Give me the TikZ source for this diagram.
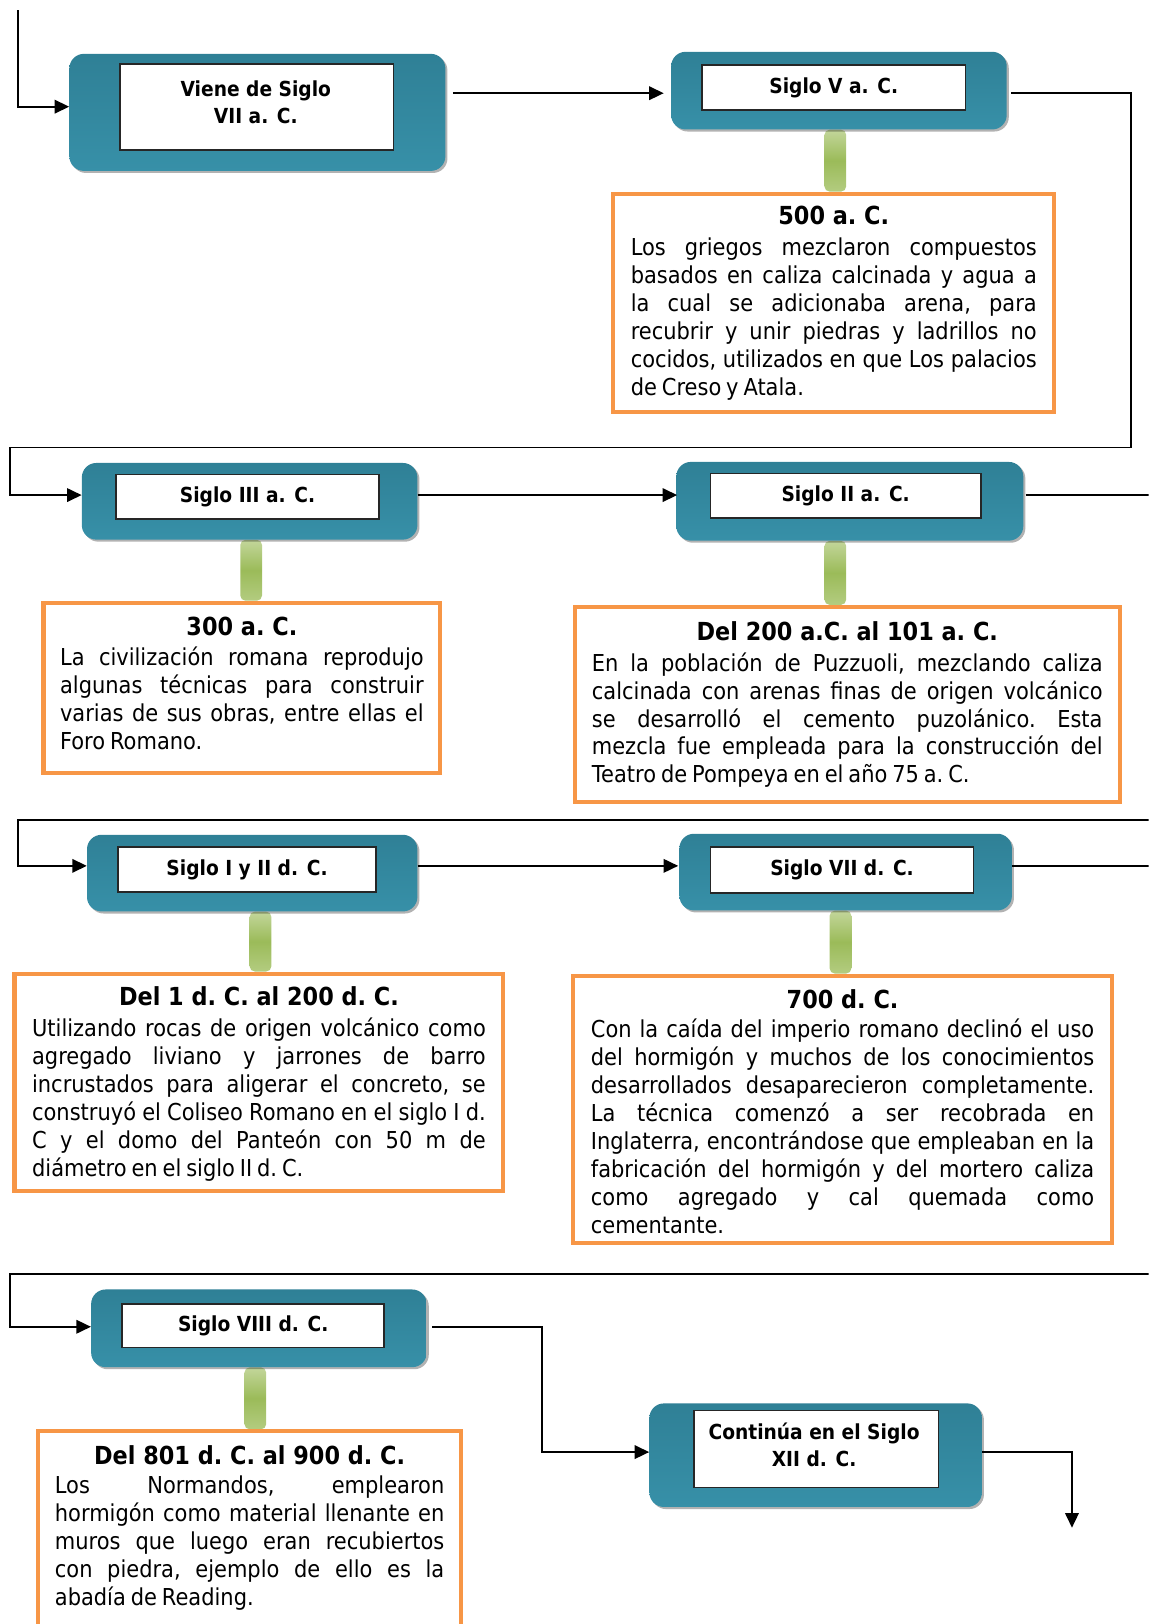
\documentclass[tikz,border=0pt]{standalone}
\usepackage{fontspec}
\setmainfont[FakeStretch=0.9]{DejaVu Sans}
\usetikzlibrary{arrows.meta,shadows,calc,backgrounds}
\definecolor{tealA}{HTML}{2F8096}
\definecolor{tealB}{HTML}{3790A8}
\definecolor{orangeb}{HTML}{F79646}
\definecolor{greenm}{HTML}{9BBB59}
\definecolor{greenl}{HTML}{C3D69B}
\definecolor{greenb}{HTML}{B3CC80}
\newcommand\mytitlef{\fontsize{24}{28}\selectfont\bfseries\spaceskip=0pt\relax}
\newcommand\mybodyf{\fontsize{22.5}{27}\selectfont}
\newcommand\mylabelf{\fontsize{20}{26}\selectfont\bfseries}
\newcommand\mysetup{\frenchspacing\parindent=0pt\spaceskip=.21em plus 1.5em minus .06em\relax\hyphenpenalty=10000\exhyphenpenalty=10000\tolerance=10000\hbadness=10000\relax}
\begin{document}
\begin{tikzpicture}[x=1pt,y=-1pt,
  tealnode/.style={rounded corners=14pt, top color=tealA, bottom color=tealB, draw=none, inner sep=0pt,
    drop shadow={shadow xshift=2pt,shadow yshift=-2pt,opacity=.3,fill=black}},
  wnode/.style={fill=white, draw=black!85, line width=1.5pt, inner sep=0pt, align=center, font=\mylabelf},
  ltext/.style={inner sep=0pt, align=center, font=\mylabelf},
  obox/.style={draw=orangeb, line width=4pt, fill=white, inner sep=0pt},
  otext/.style={align=justify, inner sep=0pt, anchor=north, font=\mybodyf},
  stemsty/.style={top color=greenl, bottom color=greenb, middle color=greenm, rounded corners=5pt},
  conn/.style={line width=1.8pt, -{Triangle[length=14pt,width=13pt]}},
  plain/.style={line width=1.8pt}]
\path[use as bounding box] (0,0) rectangle (1109,1568);
\clip (0,0) rectangle (1109,1568);

% ---- row 1
\node[tealnode, minimum width=363pt, minimum height=113pt] (T1) at (248.5,108.5) {};
\node[wnode, minimum width=264pt, minimum height=83pt] (W1) at (248,103.5) {};
\node[ltext] (L1) at (247,99) {Viene de Siglo\\VII a. C.};

\node[tealnode, minimum width=324pt, minimum height=75pt] (T2) at (810,87.5) {};
\node[wnode, minimum width=254pt, minimum height=43pt] (W2) at (805,84.5) {Siglo V a. C.};
\node[obox, minimum width=426pt, minimum height=211pt] (O2) at (805,292.5) {};
\node[otext, text width=392pt] (X2) at ($(O2.north)+(0,13.5)$) {\mysetup
{\centering\mytitlef 500 a. C.\par}\vskip3pt
Los griegos mezclaron compuestos\linebreak
basados en caliza calcinada y agua a\linebreak
la cual se adicionaba arena, para\linebreak
recubrir y unir piedras y ladrillos no\linebreak
cocidos, utilizados en que Los palacios\linebreak
de Creso y Atala.};

% ---- row 2
\node[tealnode, minimum width=324pt, minimum height=74pt] (T3) at (241,484) {};
\node[wnode, minimum width=254pt, minimum height=43pt] (W3) at (239,479.5) {Siglo III a. C.};
\node[obox, minimum width=383pt, minimum height=164pt] (O3) at (233.5,664) {};
\node[otext, text width=351pt] (X3) at ($(O3.north)+(0,16)$) {\mysetup
{\centering\mytitlef 300 a. C.\par}\vskip1.5pt
La civilización romana reprodujo\linebreak
algunas técnicas para construir\linebreak
varias de sus obras, entre ellas el\linebreak
Foro Romano.};

\node[tealnode, minimum width=335pt, minimum height=76pt] (T4) at (820.5,484) {};
\node[wnode, minimum width=261pt, minimum height=43pt] (W4) at (816.5,478.5) {Siglo II a. C.};
\node[obox, minimum width=526pt, minimum height=188pt] (O4) at (818,680) {};
\node[otext, text width=493pt] (X4) at ($(O4.north)+(0,15.5)$) {\mysetup
{\centering\mytitlef Del 200 a.C. al 101 a. C.\par}\vskip3pt
En la población de Puzzuoli, mezclando caliza\linebreak
calcinada con arenas finas de origen volcánico\linebreak
se desarrolló el cemento puzolánico. Esta\linebreak
mezcla fue empleada para la construcción del\linebreak
Teatro de Pompeya en el año 75 a. C.};

% ---- row 3
\node[tealnode, minimum width=319pt, minimum height=74pt] (T5) at (243.5,843) {};
\node[wnode, minimum width=249pt, minimum height=43pt] (W5) at (238.5,839.5) {Siglo I y II d. C.};
\node[obox, minimum width=472pt, minimum height=210pt] (O5) at (250,1045) {};
\node[otext, text width=438pt] (X5) at ($(O5.north)+(0,14.5)$) {\mysetup
{\centering\mytitlef Del 1 d. C. al 200 d. C.\par}\vskip3pt
Utilizando rocas de origen volcánico como\linebreak
agregado liviano y jarrones de barro\linebreak
incrustados para aligerar el concreto, se\linebreak
construyó el Coliseo Romano en el siglo I d.\linebreak
C y el domo del Panteón con 50 m de\linebreak
diámetro en el siglo II d. C.};

\node[tealnode, minimum width=321pt, minimum height=74pt] (T6) at (816.5,842) {};
\node[wnode, minimum width=254pt, minimum height=44pt] (W6) at (813,840) {Siglo VII d. C.};
\node[obox, minimum width=521pt, minimum height=258pt] (O6) at (813.5,1071) {};
\node[otext, text width=486pt] (X6) at ($(O6.north)+(0,15)$) {\mysetup
{\centering\mytitlef 700 d. C.\par}\vskip1.5pt
Con la caída del imperio romano declinó el uso\linebreak
del hormigón y muchos de los conocimientos\linebreak
desarrollados desaparecieron completamente.\linebreak
La técnica comenzó a ser recobrada en\linebreak
Inglaterra, encontrándose que empleaban en la\linebreak
fabricación del hormigón y del mortero caliza\linebreak
como agregado y cal quemada como\linebreak
cementante.};

% ---- row 4
\node[tealnode, minimum width=324pt, minimum height=75pt] (T7) at (250,1282.5) {};
\node[wnode, minimum width=253pt, minimum height=42pt] (W7) at (244.5,1280) {Siglo VIII d. C.};
\node[obox, minimum width=408pt, minimum height=216pt] (O7) at (241,1490) {};
\node[otext, text width=376pt] (X7) at ($(O7.north)+(0,16)$) {\mysetup
{\centering\mytitlef Del 801 d. C. al 900 d. C.\par}\vskip0.5pt
Los Normandos, emplearon\linebreak
hormigón como material llenante en\linebreak
muros que luego eran recubiertos\linebreak
con piedra, ejemplo de ello es la\linebreak
abadía de Reading.};

\node[tealnode, minimum width=321pt, minimum height=100pt] (T8) at (787.5,1405) {};
\node[wnode, minimum width=236pt, minimum height=74pt] (W8) at (788,1399) {};
\node[ltext] (L8) at (786,1395) {Continúa en el Siglo\\XII d. C.};

% ---- stems
\begin{pgfonlayer}{background}
\shade[stemsty] (796,0 |- T2.south) rectangle (817,0 |- O2.north);
\shade[stemsty] (232,0 |- T3.south) rectangle (253,0 |- O3.north);
\shade[stemsty] (796,0 |- T4.south) rectangle (817,0 |- O4.north);
\shade[stemsty] (241,0 |- T5.south) rectangle (262,0 |- O5.north);
\shade[stemsty] (801,0 |- T6.south) rectangle (822,0 |- O6.north);
\shade[stemsty] (236,0 |- T7.south) rectangle (257,0 |- O7.north);
\end{pgfonlayer}

% ---- connectors
\coordinate (S0) at (17,10);
\draw[conn] (S0) |- (T1.west |- 0,103);
\draw[conn, shorten <=7pt, shorten >=7pt] (T1.east |- 0,90) -- (T2.west |- 0,90);
\draw[conn, shorten <=4pt] (T2.east |- 0,90) -| (1092,432) -| (10,478) -- (T3.west |- 0,478);
\draw[conn, shorten >=-1pt] (T3.east |- 0,478) -- (T4.west |- 0,478);
\coordinate (E4) at (1109,478);
\draw[plain, shorten <=2pt] (T4.east |- 0,478) -- (E4);
\coordinate (E5) at (1109,792);
\draw[conn] (E5) -| (17,836) -- (T5.west |- 0,836);
\draw[conn, shorten >=1pt] (T5.east |- 0,836) -- (T6.west |- 0,836);
\coordinate (E7) at (1109,836);
\draw[plain] (T6.east |- 0,836) -- (E7);
\coordinate (E8) at (1109,1230);
\draw[conn] (E8) -| (10,1281) -- (T7.west |- 0,1281);
\draw[conn, shorten <=5pt] (T7.east |- 0,1281) -| (523,1402) -- (T8.west |- 0,1402);
\coordinate (E10) at (1035,1475);
\draw[conn] (T8.east |- 0,1402) -| (E10);
\end{tikzpicture}
\end{document}
